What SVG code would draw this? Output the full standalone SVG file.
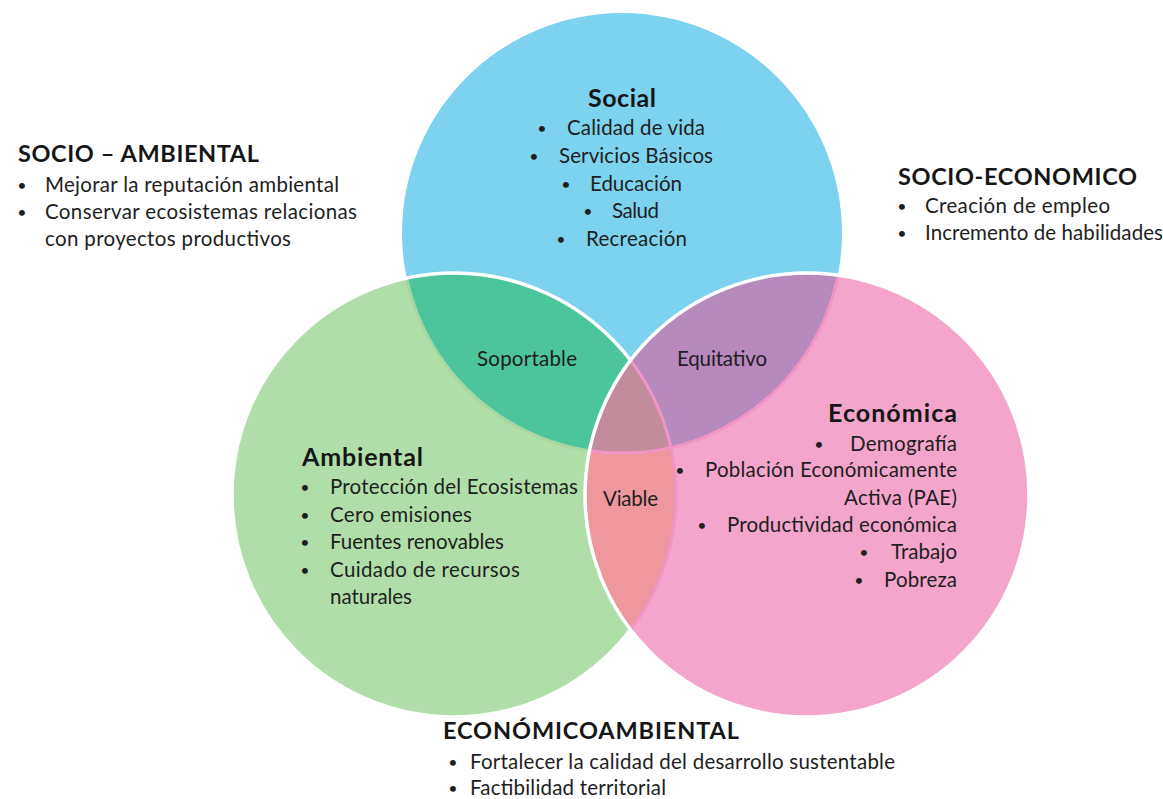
<svg xmlns="http://www.w3.org/2000/svg" width="1163" height="799" viewBox="0 0 1163 799">
<style>
.t{font-family:Lato,"Open Sans","Liberation Sans",sans-serif;font-size:20.5px;fill:#1e1e1e}
.d{font-family:Lato,"Open Sans","Liberation Sans",sans-serif;font-size:16px;fill:#1e1e1e;text-anchor:middle}
.b{font-family:Lato,"Open Sans","Liberation Sans",sans-serif;font-size:25px;font-weight:bold;fill:#161616}
.c{font-family:Lato,"Open Sans","Liberation Sans",sans-serif;font-size:23.5px;font-weight:bold;fill:#161616}
.ws{fill:none;stroke:#ffffff;stroke-width:3.5}
</style>
<defs>
<clipPath id="cG"><circle cx="454" cy="495" r="222"/></clipPath>
<clipPath id="cP"><circle cx="807" cy="495" r="222"/></clipPath>
</defs>
<rect width="1163" height="799" fill="#ffffff"/>
<g id="circles">
<circle id="c-social" cx="622" cy="233" r="220" fill="#7DD3EF"/>
<circle id="c-ambiental" cx="454" cy="495" r="222" fill="#B0DEA9"/>
<g clip-path="url(#cG)">
<circle cx="622" cy="233" r="220" fill="#4CC59C"/>
<circle cx="622" cy="233" r="220" fill="none" stroke="#A6D7A1" stroke-width="3"/>
</g>
<circle cx="454" cy="495" r="222" class="ws"/>
<circle id="c-economica" cx="807" cy="495" r="222" fill="#F4A5CB"/>
<g clip-path="url(#cP)">
<circle cx="622" cy="233" r="220" fill="#B789BC"/>
<circle cx="454" cy="495" r="222" fill="#EE979F"/>
<g clip-path="url(#cG)"><circle cx="622" cy="233" r="220" fill="#C38C9C"/></g>
<circle cx="622" cy="233" r="220" fill="none" stroke="#F095C5" stroke-width="3"/>
<circle cx="454" cy="495" r="222" fill="none" stroke="#F095C5" stroke-width="3"/>
</g>
<circle cx="807" cy="495" r="222" class="ws"/>
</g>
<g id="social">
<text class="b" x="588" y="107" textLength="68">Social</text>
<text class="d" x="542" y="134">•</text><text class="t" x="567" y="135" textLength="138">Calidad de vida</text>
<text class="d" x="534" y="162">•</text><text class="t" x="559" y="163" textLength="154">Servicios Básicos</text>
<text class="d" x="566" y="190">•</text><text class="t" x="590" y="191" textLength="92">Educación</text>
<text class="d" x="588" y="217">•</text><text class="t" x="612" y="218" textLength="47">Salud</text>
<text class="d" x="561" y="245">•</text><text class="t" x="586" y="246" textLength="101">Recreación</text>
</g>
<g id="ambiental">
<text class="b" x="302" y="466" textLength="121">Ambiental</text>
<text class="d" x="305" y="493">•</text><text class="t" x="330" y="494" textLength="248">Protección del Ecosistemas</text>
<text class="d" x="305" y="521">•</text><text class="t" x="330" y="522" textLength="142">Cero emisiones</text>
<text class="d" x="305" y="548">•</text><text class="t" x="330" y="549" textLength="174">Fuentes renovables</text>
<text class="d" x="305" y="576">•</text><text class="t" x="330" y="577" textLength="190">Cuidado de recursos</text>
<text class="t" x="330" y="604" textLength="82">naturales</text>
</g>
<g id="economica">
<text class="b" x="828" y="422" textLength="129">Económica</text>
<text class="d" x="819" y="450">•</text><text class="t" x="850" y="451" textLength="107">Demografía</text>
<text class="d" x="680" y="476">•</text><text class="t" x="705" y="477" textLength="252">Población Económicamente</text>
<text class="t" x="844" y="505" textLength="113">Activa (PAE)</text>
<text class="d" x="702" y="531">•</text><text class="t" x="727" y="532" textLength="230">Productividad económica</text>
<text class="d" x="864" y="558">•</text><text class="t" x="891" y="559" textLength="66">Trabajo</text>
<text class="d" x="859" y="586">•</text><text class="t" x="884" y="587" textLength="73">Pobreza</text>
</g>
<g id="overlaps">
<text class="t" x="477" y="366" textLength="100">Soportable</text>
<text class="t" x="677" y="366" textLength="90">Equitativo</text>
<text class="t" x="603" y="506" textLength="55">Viable</text>
</g>
<g id="socio-ambiental">
<text class="c" x="18" y="162" textLength="241">SOCIO – AMBIENTAL</text>
<text class="d" x="22" y="191">•</text><text class="t" x="45" y="192" textLength="294">Mejorar la reputación ambiental</text>
<text class="d" x="22" y="218">•</text><text class="t" x="45" y="219" textLength="312">Conservar ecosistemas relacionas</text>
<text class="t" x="45" y="246" textLength="246">con proyectos productivos</text>
</g>
<g id="socio-economico">
<text class="c" x="898" y="185" textLength="239">SOCIO-ECONOMICO</text>
<text class="d" x="902" y="212">•</text><text class="t" x="925" y="213" textLength="185">Creación de empleo</text>
<text class="d" x="902" y="239">•</text><text class="t" x="925" y="240" textLength="238">Incremento de habilidades</text>
</g>
<g id="economico-ambiental">
<text class="c" x="443" y="739" textLength="296">ECONÓMICOAMBIENTAL</text>
<text class="d" x="453" y="768">•</text><text class="t" x="470" y="769" textLength="425">Fortalecer la calidad del desarrollo sustentable</text>
<text class="d" x="453" y="794">•</text><text class="t" x="470" y="795" textLength="196">Factibilidad territorial</text>
</g>
<g id="connectors"/>
</svg>
